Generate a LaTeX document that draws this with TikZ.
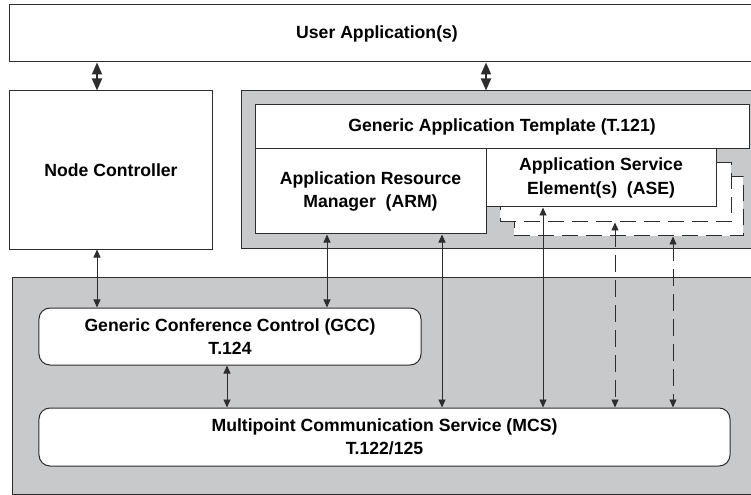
\documentclass[tikz,border=0pt]{standalone}
\usepackage{fontspec}
\setmainfont{Liberation Sans}
\usetikzlibrary{arrows.meta}
\definecolor{linec}{RGB}{45,45,45}
\definecolor{panel}{RGB}{200,201,203}
\newcommand{\txtfont}{\fontsize{17.7}{23.5}\selectfont\bfseries}
\newcommand{\tip}{Triangle[length=8bp,width=7bp]}
\newcommand{\bigtip}{Triangle[length=12bp,width=10bp]}
\tikzset{
  box/.style 2 args={draw=linec, fill=white, line width=1bp, inner sep=0pt,
    minimum width=#1, minimum height=#2, align=center, font=\txtfont},
  panelbox/.style 2 args={box={#1}{#2}, fill=panel},
  shadowbox/.style 2 args={box={#1}{#2}, dash pattern=on 16bp off 8bp},
  roundbox/.style 2 args={box={#1}{#2}, rounded corners=11bp},
  link/.style={{\tip}-{\tip}, draw=linec, line width=0.9bp},
  dlink/.style={link, dash pattern=on 17bp off 8bp},
  biglink/.style={{\bigtip}-{\bigtip}, draw=linec, line width=1.8bp}
}

\begin{document}
\begin{tikzpicture}[x=1bp,y=-1bp]
\path[use as bounding box, clip] (0,0) rectangle (751,495);

% top
\node[box={760bp}{57bp}, label={[font=\txtfont, xshift=-13bp]center:User Application(s)}] (user) at (390,33.5) {};
\node[box={202bp}{158bp}] (nc) at (111,170) {Node Controller};

% application side
\node[panelbox={520bp}{157bp}] (app) at (501,169.5) {};
\node[box={494bp}{44bp}] (gat) at (502,127) {Generic Application Template (T.121)};
\node[shadowbox={229bp}{59bp}] (sh2) at (628.5,206.5) {};
\node[shadowbox={231bp}{59bp}] (sh1) at (615.5,192.5) {};
\node[box={231bp}{85bp}] (arm) at (370.5,191.5) {Application Resource\\Manager~~(ARM)};
\node[box={230bp}{58bp}] (ase) at (601,178) {Application Service\\Element(s)~~(ASE)};

% conference side
\node[panelbox={748bp}{216bp}] (core) at (387,386) {};
\node[roundbox={382bp}{57bp}] (gcc) at (230,336.5) {Generic Conference Control (GCC)\\T.124};
\node[roundbox={691bp}{58bp}] (mcs) at (384.5,437) {Multipoint Communication Service (MCS)\\T.122/125};

% arrow columns
\coordinate (xnc) at (97,0);
\coordinate (xapp) at (486,0);
\coordinate (xgcc) at (227,0);
\coordinate (xarm) at (327,0);
\coordinate (xmcs) at (442,0);
\coordinate (xase) at (543,0);
\coordinate (xsa) at (615,0);
\coordinate (xsb) at (673,0);

% arrows
\draw[biglink] (user.south -| xnc) -- (nc.north -| xnc);
\draw[biglink] (user.south -| xapp) -- (app.north -| xapp);
\draw[link] (nc.south -| xnc) -- (gcc.north -| xnc);
\draw[link] (arm.south -| xarm) -- (gcc.north -| xarm);
\draw[link] (arm.south -| xmcs) -- (mcs.north -| xmcs);
\draw[link] (ase.south -| xase) -- (mcs.north -| xase);
\draw[dlink] (sh1.south -| xsa) -- (mcs.north -| xsa);
\draw[dlink] (sh2.south -| xsb) -- (mcs.north -| xsb);
\draw[link] (gcc.south -| xgcc) -- (mcs.north -| xgcc);
\end{tikzpicture}
\end{document}
